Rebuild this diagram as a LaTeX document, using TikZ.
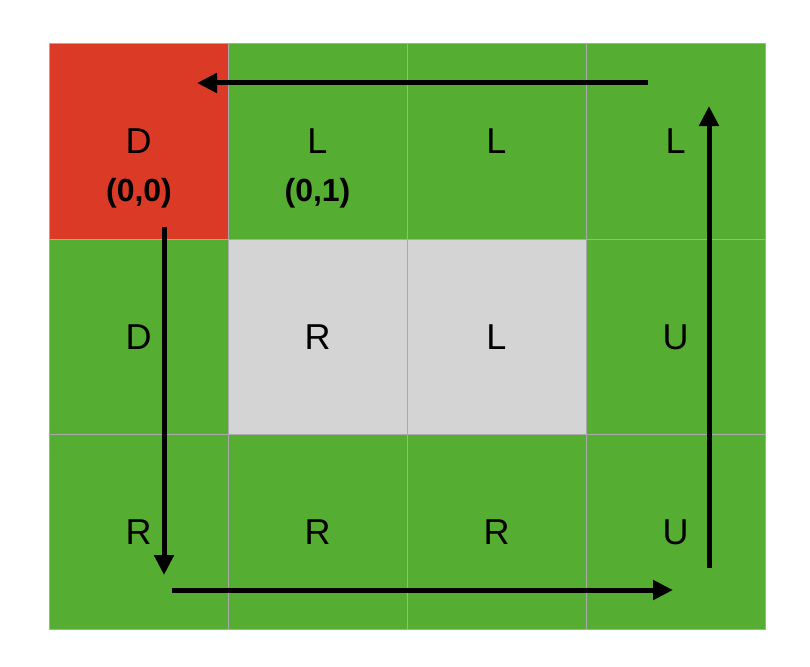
\documentclass[tikz,border=0pt]{standalone}
\usepackage{fontspec}
\setmainfont{Liberation Sans}
\usetikzlibrary{arrows.meta}
\definecolor{cred}{HTML}{DB3B26}
\definecolor{cgreen}{HTML}{55AD32}
\definecolor{cgray}{HTML}{D4D4D4}
\definecolor{gline}{HTML}{AAAAAA}
\begin{document}
\begin{tikzpicture}[x=1pt,y=-1pt,
  cell/.style={draw=gline,line width=0.8pt,minimum width=179pt,minimum height=195.3pt,inner sep=0pt,outer sep=0pt,font=\fontsize{36}{42}\selectfont},
  coordlab/.style={font=\fontsize{32}{38}\selectfont\bfseries,inner sep=0pt},
  path/.style={line width=5pt,-{Triangle[length=20pt,width=19pt]}}]
\useasboundingbox (0,0) rectangle (810,666);
\node[cell,fill=cred]   (c11) at (138.5,141.5) {D};
\node[cell,fill=cgreen] (c12) at (317.5,141.5) {L};
\node[cell,fill=cgreen] (c13) at (496.5,141.5) {L};
\node[cell,fill=cgreen] (c14) at (675.5,141.5) {L};
\node[cell,fill=cgreen] (c21) at (138.5,336.8) {D};
\node[cell,fill=cgray]  (c22) at (317.5,336.8) {R};
\node[cell,fill=cgray]  (c23) at (496.5,336.8) {L};
\node[cell,fill=cgreen] (c24) at (675.5,336.8) {U};
\node[cell,fill=cgreen] (c31) at (138.5,532.1) {R};
\node[cell,fill=cgreen] (c32) at (317.5,532.1) {R};
\node[cell,fill=cgreen] (c33) at (496.5,532.1) {R};
\node[cell,fill=cgreen] (c34) at (675.5,532.1) {U};
\node[coordlab] (p00) at (139,193) {(0,0)};
\node[coordlab] (p01) at (317.5,193) {(0,1)};
\coordinate (a1s) at (648,83);
\coordinate (a1e) at (197,83);
\coordinate (a2s) at (164,227);
\coordinate (a2e) at (164,575);
\coordinate (a3s) at (172,590);
\coordinate (a3e) at (673,590);
\coordinate (a4s) at (709,568);
\coordinate (a4e) at (709,106);
\draw[path] (a1s) -- (a1e);
\draw[path] (a2s) -- (a2e);
\draw[path] (a3s) -- (a3e);
\draw[path] (a4s) -- (a4e);
\end{tikzpicture}
\end{document}
